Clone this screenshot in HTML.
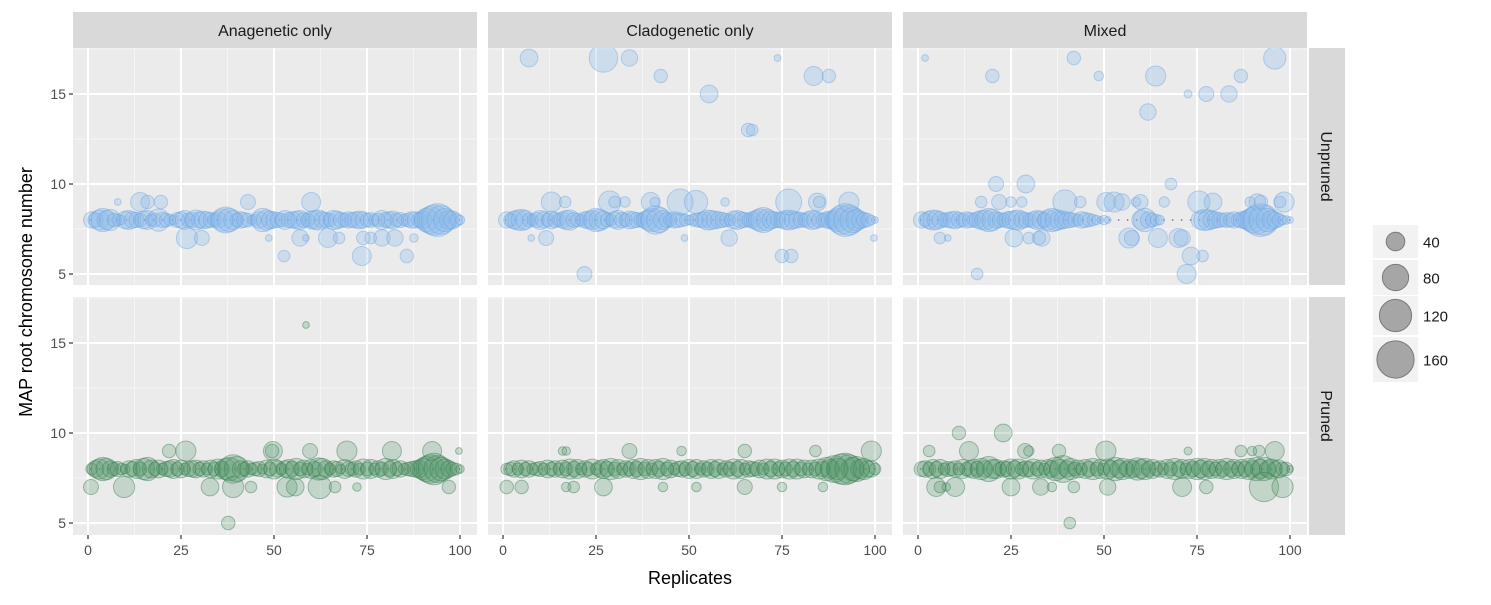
<!DOCTYPE html>
<html><head><meta charset="utf-8"><style>
body{margin:0;background:#fff;}
svg text{font-family:"Liberation Sans",sans-serif;}
</style></head><body>
<svg id="chart" width="1491" height="600" xmlns="http://www.w3.org/2000/svg"></svg>
<script>
// ---- data ----
const colLabels = ["Anagenetic only","Cladogenetic only","Mixed"];
const rowLabels = ["Unpruned","Pruned"];
const xTicks = [0,25,50,75,100];
const yTicks = [5,10,15];
const legendSizes = [40,80,120,160];
const refValue = 8;
// counts at value 8 for replicates 1..100
const uA8 = [30,25,45,60,40,50,20,15,10,35,40,30,25,20,35,40,15,20,55,25,20,15,10,25,30,40,20,25,45,30,35,30,25,20,30,55,75,60,40,20,30,25,20,10,15,30,60,45,35,30,25,20,40,25,30,35,40,25,20,35,40,45,30,25,20,40,35,25,20,30,25,30,35,30,20,25,15,20,40,25,30,35,20,25,15,20,30,30,25,35,60,80,100,120,90,60,40,35,20,10];
const uC8 = [30,20,35,45,50,40,20,15,25,40,30,20,35,25,20,30,40,45,25,20,15,30,35,40,60,50,35,20,15,30,40,25,20,35,30,25,20,30,45,60,90,70,40,25,20,30,25,20,15,10,15,20,25,30,45,40,35,30,25,20,15,35,40,30,25,20,30,40,55,70,50,35,30,25,30,40,45,35,30,25,20,30,40,35,25,20,30,35,40,60,90,120,100,70,50,35,25,20,10,5];
const uM8 = [30,20,35,45,40,30,20,25,30,35,25,20,30,25,20,30,40,45,60,50,30,25,20,30,35,40,45,30,25,20,30,40,35,25,45,60,50,40,35,30,25,20,15,30,25,20,15,10,5,10,5,0,0,0,0,0,0,0,0,40,60,30,20,15,10,0,0,0,0,0,0,0,0,0,0,40,50,45,35,30,25,20,25,20,30,20,30,35,50,70,90,120,100,60,40,30,20,10,8,5];
const pA8 = [15,30,45,60,50,30,20,25,15,10,30,25,40,20,50,60,35,20,35,15,25,30,40,20,35,15,25,30,35,20,30,15,35,20,45,25,50,60,90,70,30,20,30,15,20,25,10,35,20,45,30,15,30,40,25,50,20,35,15,40,25,55,50,30,15,30,25,10,40,25,20,30,15,45,20,40,15,30,20,50,25,40,20,30,15,20,25,30,35,50,70,90,110,80,60,45,30,20,15,8];
const pC8 = [15,20,30,15,35,20,30,15,20,25,15,35,20,30,15,35,20,45,25,40,15,30,20,45,15,30,40,25,50,20,40,15,30,20,40,25,50,20,40,15,40,25,50,20,35,15,25,30,20,40,25,40,15,30,20,40,25,40,15,30,20,45,25,40,15,30,25,20,35,15,45,25,45,20,35,20,45,25,45,20,35,15,35,20,45,25,60,40,80,50,100,110,90,60,70,40,50,30,30,15];
const pM8 = [25,30,20,40,25,40,15,25,20,30,15,40,20,30,40,25,50,30,70,40,40,20,30,25,45,30,45,20,30,25,45,20,35,15,40,30,60,40,80,30,50,20,35,15,40,25,50,20,40,15,45,30,60,35,50,25,40,30,55,40,50,25,40,20,30,15,40,20,50,25,40,15,40,25,50,35,50,25,40,20,40,25,50,25,40,20,40,25,50,30,60,40,60,30,45,25,35,20,20,5];
// off-reference points: replicate, value, count
const uAx=[8,14,16,19.6,43,60,26.6,30.6,48.6,57,58.6,64.5,67.5,74,76,79,82.5,87.6,52.7,73.6,85.7];
const uAy=[9,9,9,9,9,9,7,7,7,7,7,7,7,7,7,7,7,7,6,6,6];
const uAn=[5,40,20,20,25,40,50,25,5,30,5,40,15,20,15,30,30,8,15,40,20];
const uCx=[7,27,34,73.8,42.4,83.5,87.6,55.4,65.9,67,13,16.7,28.7,30,32.8,39.7,40.8,47.6,51.9,59.7,76.8,84.5,85,93,7.6,11.6,48.8,60.8,99.7,75,77.5,21.9];
const uCy=[17,17,17,17,16,16,16,15,13,13,9,9,9,9,9,9,9,9,9,9,9,9,9,9,7,7,7,7,7,6,6,5];
const uCn=[35,90,30,5,20,40,20,35,20,15,45,15,55,15,12,40,10,75,60,8,75,35,15,45,5,25,5,30,5,20,20,25];
const uMx=[1.9,41.9,95.9,20,48.6,63.9,86.8,72.6,77.5,83.6,61.8,21,29,68,17,21.8,25,27.9,39.5,43.6,50.6,52.7,54.8,58.6,59.8,66.2,75.5,79.3,89.3,91.2,92.2,98.4,97.3,5.9,8,25.8,29.8,33.3,32.5,56.7,57.5,64.5,70,71,73.4,76.5,15.9,72.2];
const uMy=[17,17,17,16,16,16,16,15,15,15,14,10,10,10,9,9,9,9,9,9,9,9,9,9,9,9,9,9,9,9,9,9,9,7,7,7,7,7,7,7,7,7,7,7,6,6,5,5];
const uMn=[5,20,55,20,10,45,20,7,25,30,30,25,35,15,15,25,12,12,65,15,40,45,30,10,25,12,55,35,12,30,20,45,15,15,5,35,15,30,20,45,25,40,40,30,35,15,15,40];
const pAx=[21.8,26.3,49.7,49.5,59.7,69.6,81.7,92.5,99.7,58.6,0.8,9.7,32.8,39,43.8,53.5,55.7,62.3,66.4,72.3,97,37.7];
const pAy=[9,9,9,9,9,9,9,9,9,16,7,7,7,7,7,7,7,7,7,7,7,5];
const pAn=[20,45,40,20,25,45,40,40,5,5,25,50,35,50,15,45,35,60,15,8,20,20];
const pCx=[16,17,34,48,65,84,99,1,5,17,19,27,43,52,65,75,86];
const pCy=[9,9,9,9,9,9,9,7,7,7,7,7,7,7,7,7,7];
const pCn=[8,8,25,10,20,15,45,20,20,10,15,35,10,10,25,10,10];
const pMx=[11,22.9,3,13.7,28.8,29.8,37.9,50.5,72.6,86.8,89.8,91.7,95.9,4.9,5.9,7.6,10,25,33,36,41.9,51,71,77.5,93,98,40.8];
const pMy=[10,10,9,9,9,9,9,9,9,9,9,9,9,7,7,7,7,7,7,7,7,7,7,7,7,7,5];
const pMn=[20,35,15,40,25,12,20,45,7,15,10,15,40,40,15,8,40,35,30,10,15,30,40,20,95,50,15];

// ---- layout ----
const NS="http://www.w3.org/2000/svg";
const svg=document.getElementById('chart');
const panelX=[73,488,903], panelW=404;
const rowY=[48,297], rowH=[237,238];
function sx(p,v){return panelX[p]+15+v*3.72;}
function sy(r,v){return rowY[r]+46+(15-v)*18;}
function rad(n){return 1.5*Math.sqrt(n);}
function mk(tag,attrs,parent){const e=document.createElementNS(NS,tag);for(const k in attrs)e.setAttribute(k,attrs[k]);(parent||svg).appendChild(e);return e;}

const main8=[[uA8,uC8,uM8],[pA8,pC8,pM8]];
const offX=[[uAx,uCx,uMx],[pAx,pCx,pMx]];
const offY=[[uAy,uCy,uMy],[pAy,pCy,pMy]];
const offN=[[uAn,uCn,uMn],[pAn,pCn,pMn]];
const fills=["rgba(135,185,235,0.3)","rgba(80,150,105,0.26)"];
const strokes=["rgba(110,165,225,0.45)","rgba(60,125,85,0.45)"];

for(let r=0;r<2;r++){for(let p=0;p<3;p++){
  const g=mk('g',{});
  
  
  mk('rect',{x:panelX[p],y:rowY[r],width:panelW,height:rowH[r],fill:'#ebebeb'},g);
  for(let v=12.5;v<=100;v+=25){const x=sx(p,v);mk('line',{x1:x,x2:x,y1:rowY[r],y2:rowY[r]+rowH[r],stroke:'#f5f5f5','stroke-width':1},g);}
  [7.5,12.5,17.5].forEach(v=>{const y=sy(r,v);mk('line',{x1:panelX[p],x2:panelX[p]+panelW,y1:y,y2:y,stroke:'#f5f5f5','stroke-width':1},g);});
  xTicks.forEach(v=>{const x=sx(p,v);mk('line',{x1:x,x2:x,y1:rowY[r],y2:rowY[r]+rowH[r],stroke:'#fff','stroke-width':2},g);});
  yTicks.forEach(v=>{const y=sy(r,v);mk('line',{x1:panelX[p],x2:panelX[p]+panelW,y1:y,y2:y,stroke:'#fff','stroke-width':2},g);});
  const ref=mk('line',{x1:sx(p,0.5),x2:sx(p,100),y1:sy(r,refValue),y2:sy(r,refValue),stroke:'#8a6b96','stroke-width':1.6,'stroke-dasharray':'1.5 7.5'},g);
  
  
  const arr=main8[r][p];
  for(let i=0;i<arr.length;i++){if(!arr[i])continue;
    const c=mk('circle',{cx:sx(p,i+1),cy:sy(r,refValue),r:rad(arr[i]),fill:fills[r],stroke:strokes[r],'stroke-width':1},g);
    
    }
  const xs=offX[r][p],ys=offY[r][p],ns=offN[r][p];
  for(let i=0;i<xs.length;i++){
    const c=mk('circle',{cx:sx(p,xs[i]),cy:sy(r,ys[i]),r:rad(ns[i]),fill:fills[r],stroke:strokes[r],'stroke-width':1},g);
    
    }
}}
function wrect(x,y,w,h){mk('rect',{x:x,y:y,width:w,height:h,fill:'#fff'});}
wrect(0,0,73,600);wrect(477,0,11,600);wrect(892,0,11,600);wrect(1307,0,184,600);
wrect(0,0,1491,48);wrect(0,285,1491,12);wrect(0,535,1491,65);

colLabels.forEach((t,p)=>{
  const s=mk('rect',{x:panelX[p],y:12,width:panelW,height:36,fill:'#d9d9d9'});
  
  
  const tx=mk('text',{x:panelX[p]+panelW/2,y:36,'text-anchor':'middle','font-size':16,fill:'#1a1a1a'});
  tx.textContent=t;
  
  
});
rowLabels.forEach((t,r)=>{
  const s=mk('rect',{x:1309,y:rowY[r],width:36,height:rowH[r],fill:'#d9d9d9'});
  
  
  const cy=rowY[r]+rowH[r]/2;
  const tx=mk('text',{x:1321,y:cy,'text-anchor':'middle','font-size':16,fill:'#1a1a1a',transform:'rotate(90 1321 '+cy+')'});
  tx.textContent=t;
  
  
});
for(let r=0;r<2;r++){yTicks.forEach(v=>{const y=sy(r,v);
  mk('line',{x1:69,x2:73,y1:y,y2:y,stroke:'#333','stroke-width':1.2});
  const t=mk('text',{x:66,y:y+5,'text-anchor':'end','font-size':14,fill:'#4d4d4d'});t.textContent=v;
  
  });}
for(let p=0;p<3;p++){xTicks.forEach(v=>{const x=sx(p,v);
  mk('line',{x1:x,x2:x,y1:535,y2:539,stroke:'#333','stroke-width':1.2});
  const t=mk('text',{x:x,y:555,'text-anchor':'middle','font-size':14,fill:'#4d4d4d'});t.textContent=v;
  
  });}
const xt=mk('text',{x:690,y:584,'text-anchor':'middle','font-size':18,fill:'#000'});xt.textContent='Replicates';


const yt=mk('text',{x:32,y:292,'text-anchor':'middle','font-size':18,fill:'#000',transform:'rotate(-90 32 292)'});yt.textContent='MAP root chromosome number';


const keyY=[225,260,296,337], keyH=[33,35,39,45];
legendSizes.forEach((n,i)=>{
  const k=mk('rect',{x:1373,y:keyY[i],width:45,height:keyH[i],fill:'#f2f2f2'});
  
  
  const cy=keyY[i]+keyH[i]/2;
  mk('circle',{cx:1395.5,cy:cy,r:rad(n)*0.98,fill:'#a6a6a6',stroke:'#7a7a7a','stroke-width':1});
  const t=mk('text',{x:1423,y:cy+6,'font-size':15,fill:'#1a1a1a'});t.textContent=n;
  
  
});
</script>
</body></html>
